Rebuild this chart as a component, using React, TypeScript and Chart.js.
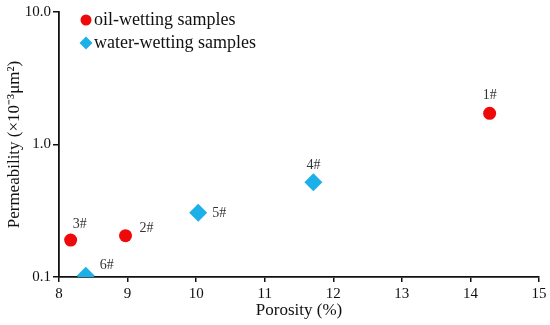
import React, { useEffect, useRef } from "react";
import { Chart, registerables } from "chart.js";

Chart.register(...registerables);

const oilLabels = ["1#", "2#", "3#"];
const oilPorosity = [14.28, 8.97, 8.17];
const oilPermeability = [1.72, 0.205, 0.19];

const waterLabels = ["4#", "5#", "6#"];
const waterPorosity = [11.71, 10.03, 8.39];
const waterPermeability = [0.52, 0.305, 0.102];

const yTicks = [0.1, 1, 10];

const RED = "#ee0a0a";
const CYAN = "#1cb0e8";
const FONT = "'Liberation Serif', 'Times New Roman', serif";

// label offsets (pixels) relative to the point
const labelOffsets: Record<string, [number, number]> = {
  "1#": [0, -18],
  "2#": [21, -7],
  "3#": [9, -16],
  "4#": [0, -17],
  "5#": [21, 0],
  "6#": [21, -11],
};

const pointLabelPlugin = {
  id: "pointLabels",
  afterDatasetsDraw(chart: any) {
    const ctx = chart.ctx;
    ctx.save();
    ctx.font = `14px ${FONT}`;
    ctx.fillStyle = "#333";
    ctx.textAlign = "center";
    ctx.textBaseline = "middle";
    chart.data.datasets.forEach((ds: any, i: number) => {
      const meta = chart.getDatasetMeta(i);
      meta.data.forEach((el: any, j: number) => {
        const lab = ds.pointNames[j];
        const off = labelOffsets[lab] || [0, -15];
        ctx.fillText(lab, el.x + off[0], el.y + off[1]);
      });
    });
    ctx.restore();
  },
};

const legendPlugin = {
  id: "customLegend",
  afterDraw(chart: any) {
    const ctx = chart.ctx;
    ctx.save();
    ctx.font = `18px ${FONT}`;
    ctx.textBaseline = "middle";
    ctx.textAlign = "left";
    const x0 = 86;
    const ys = [20, 43];
    chart.data.datasets.forEach((ds: any, i: number) => {
      const y = ys[i];
      ctx.fillStyle = ds.backgroundColor;
      ctx.beginPath();
      if (ds.pointStyle === "circle") {
        ctx.arc(x0, y, 5.5, 0, Math.PI * 2);
      } else {
        const r = 6.5;
        ctx.moveTo(x0, y - r);
        ctx.lineTo(x0 + r, y);
        ctx.lineTo(x0, y + r);
        ctx.lineTo(x0 - r, y);
        ctx.closePath();
      }
      ctx.fill();
      ctx.fillStyle = "#111";
      ctx.fillText(ds.label, x0 + 8, y);
    });
    ctx.restore();
  },
};

export default function App() {
  const ref = useRef<HTMLCanvasElement>(null);
  useEffect(() => {
    if (!ref.current) return;
    const chart = new Chart(ref.current, {
      type: "scatter",
      data: {
        datasets: [
          {
            label: "oil-wetting samples",
            data: oilPorosity.map((x, i) => ({ x, y: oilPermeability[i] })),
            pointNames: oilLabels,
            backgroundColor: RED,
            borderColor: RED,
            pointStyle: "circle",
            pointRadius: 6.5,
            borderWidth: 0,
          } as any,
          {
            label: "water-wetting samples",
            data: waterPorosity.map((x, i) => ({ x, y: waterPermeability[i] })),
            pointNames: waterLabels,
            backgroundColor: CYAN,
            borderColor: CYAN,
            pointStyle: "rectRot",
            pointRadius: 9,
            borderWidth: 0,
          } as any,
        ],
      },
      options: {
        animation: false,
        responsive: true,
        maintainAspectRatio: false,
        layout: { padding: { top: 12, right: 11, left: 0, bottom: 0 } },
        plugins: {
          legend: { display: false },
          tooltip: { enabled: false },
        },
        scales: {
          x: {
            type: "linear",
            min: 8,
            max: 15,
            ticks: {
              stepSize: 1,
              color: "#111",
              font: { family: FONT, size: 15 },
              padding: 3,
            },
            grid: {
              display: true,
              drawOnChartArea: false,
              drawTicks: true,
              tickLength: 5,
              color: "#111",
              lineWidth: 1.5,
            },
            border: { display: true, color: "#111", width: 1.8 },
            title: {
              display: true,
              text: "Porosity (%)",
              color: "#111",
              font: { family: FONT, size: 17 },
              padding: { top: 0 },
            },
            afterFit: (s: any) => {
              s.height = 48;
            },
          },
          y: {
            type: "logarithmic",
            min: 0.1,
            max: 10,
            afterBuildTicks: (s: any) => {
              s.ticks = yTicks.map((v) => ({ value: v }));
            },
            ticks: {
              color: "#111",
              font: { family: FONT, size: 15 },
              padding: 2,
              callback: (v: any) => Number(v).toFixed(1),
            },
            grid: {
              display: true,
              drawOnChartArea: false,
              drawTicks: true,
              tickLength: 6,
              color: "#111",
              lineWidth: 1.5,
            },
            border: { display: true, color: "#111", width: 1.8 },
            title: {
              display: true,
              text: "Permeability (×10⁻³μm²)",
              color: "#111",
              font: { family: FONT, size: 17 },
              padding: { bottom: 0 },
            },
            afterFit: (s: any) => {
              s.width = 59;
            },
          },
        },
      },
      plugins: [pointLabelPlugin, legendPlugin],
    });
    return () => chart.destroy();
  }, []);
  return (
    <div style={{ position: "fixed", left: 0, top: 0, width: 550, height: 325, background: "#fff" }}>
      <canvas ref={ref} />
    </div>
  );
}
